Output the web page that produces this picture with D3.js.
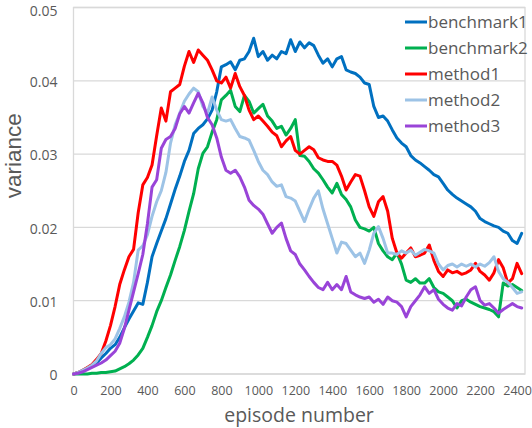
<!DOCTYPE html>
<html><head><meta charset="utf-8">
<script src="https://cdn.jsdelivr.net/npm/d3@7/dist/d3.min.js"></script>
<style>
html,body{margin:0;padding:0;background:#fff;}
svg{display:block;font-family:"Open Sans","Liberation Sans",sans-serif;}
</style></head>
<body><svg id="c" width="532" height="428"></svg>
<script>
const episodes = d3.range(0, 2426, 25);
const seriesNames = ["benchmark1","benchmark2","method1","method2","method3"];
const seriesColors = ["#0070C0","#00B050","#FF0000","#9DC3E6","#9944D8"];
const yTicks = [0,0.01,0.02,0.03,0.04,0.05];
const yTickLabels = ["0","0.01","0.02","0.03","0.04","0.05"];
const xTicks = d3.range(0, 2401, 200);

const benchmark1 = [0,0.0002,0.0005,0.0008,0.0012,0.0015,0.0022,0.0028,0.0035,0.0040,0.0050,0.0063,0.0075,0.0086,0.0097,0.0095,0.0125,0.0160,0.0178,0.0195,0.0212,0.0232,0.0252,0.0270,0.0290,0.0305,0.0328,0.0335,0.0340,0.0348,0.0360,0.0385,0.0419,0.0422,0.0426,0.0415,0.0428,0.0430,0.0440,0.0458,0.0433,0.0440,0.0428,0.0435,0.0430,0.0440,0.0437,0.0456,0.0440,0.0453,0.0445,0.0452,0.0448,0.0435,0.0424,0.0430,0.0419,0.0430,0.0433,0.0415,0.0412,0.0410,0.0405,0.0397,0.0395,0.0365,0.0350,0.0352,0.0345,0.0333,0.0322,0.0315,0.0310,0.0298,0.0292,0.0288,0.0283,0.0278,0.0272,0.0269,0.0260,0.0251,0.0245,0.0240,0.0236,0.0232,0.0228,0.0222,0.0212,0.0208,0.0205,0.0202,0.0200,0.0195,0.0192,0.0182,0.0178,0.0192];
const benchmark2 = [0,0,0,0,0.0001,0.0001,0.0002,0.0002,0.0003,0.0004,0.0007,0.0010,0.0014,0.0019,0.0026,0.0035,0.0050,0.0066,0.0085,0.0100,0.0118,0.0135,0.0155,0.0174,0.0196,0.0222,0.0246,0.0280,0.0301,0.0310,0.0330,0.0347,0.0374,0.0380,0.0387,0.0365,0.0358,0.0380,0.0372,0.0356,0.0362,0.0368,0.0352,0.0345,0.0335,0.0338,0.0326,0.0335,0.0347,0.0298,0.0297,0.0290,0.0280,0.0274,0.0265,0.0255,0.0247,0.0260,0.0245,0.0238,0.0228,0.0210,0.0200,0.0198,0.0195,0.0200,0.0178,0.0168,0.0160,0.0156,0.0165,0.0150,0.0128,0.0125,0.0130,0.0124,0.0124,0.0130,0.0118,0.0112,0.0110,0.0105,0.0100,0.0090,0.0100,0.0102,0.0098,0.0095,0.0092,0.0090,0.0088,0.0085,0.0078,0.0124,0.0120,0.0122,0.0118,0.0114];
const method1 = [0,0.0002,0.0005,0.0009,0.0013,0.0020,0.0028,0.0045,0.0066,0.0092,0.0122,0.0142,0.0160,0.0170,0.0220,0.0258,0.0268,0.0285,0.0325,0.0363,0.0345,0.0385,0.0390,0.0395,0.0420,0.0440,0.0425,0.0442,0.0435,0.0428,0.0415,0.0400,0.0397,0.0405,0.0390,0.0410,0.0392,0.0380,0.0360,0.0347,0.0352,0.0345,0.0338,0.0330,0.0325,0.0310,0.0318,0.0324,0.0305,0.0300,0.0305,0.0310,0.0306,0.0295,0.0292,0.0290,0.0290,0.0285,0.0270,0.0251,0.0262,0.0272,0.0270,0.0250,0.0228,0.0215,0.0235,0.0242,0.0222,0.0185,0.0165,0.0158,0.0165,0.0172,0.0160,0.0162,0.0165,0.0176,0.0155,0.0140,0.0133,0.0142,0.0138,0.0140,0.0136,0.0138,0.0142,0.0151,0.0140,0.0135,0.0128,0.0138,0.0156,0.0145,0.0124,0.0130,0.0151,0.0137];
const method2 = [0,0.0002,0.0005,0.0008,0.0012,0.0018,0.0028,0.0036,0.0040,0.0048,0.0062,0.0078,0.0098,0.0125,0.0169,0.0175,0.0190,0.0215,0.0235,0.0250,0.0275,0.0315,0.0340,0.0356,0.0372,0.0382,0.0390,0.0385,0.0365,0.0356,0.0378,0.0360,0.0347,0.0345,0.0347,0.0335,0.0324,0.0322,0.0319,0.0305,0.0290,0.0278,0.0272,0.0262,0.0256,0.0258,0.0242,0.0240,0.0236,0.0222,0.0208,0.0225,0.0240,0.0250,0.0225,0.0205,0.0185,0.0165,0.0180,0.0178,0.0169,0.0160,0.0165,0.0151,0.0169,0.0192,0.0201,0.0185,0.0165,0.0165,0.0163,0.0168,0.0165,0.0169,0.0162,0.0166,0.0170,0.0168,0.0165,0.0150,0.0142,0.0148,0.0150,0.0146,0.0150,0.0147,0.0150,0.0146,0.0150,0.0147,0.0152,0.0160,0.0140,0.0130,0.0125,0.0118,0.0110,0.0112];
const method3 = [0,0.0001,0.0003,0.0006,0.0009,0.0012,0.0015,0.0019,0.0025,0.0031,0.0042,0.0062,0.0087,0.0112,0.0137,0.0163,0.0205,0.0255,0.0265,0.0308,0.0320,0.0324,0.0335,0.0355,0.0365,0.0356,0.0370,0.0383,0.0370,0.0350,0.0340,0.0322,0.0296,0.0278,0.0274,0.0278,0.0269,0.0255,0.0237,0.0230,0.0225,0.0218,0.0205,0.0192,0.0200,0.0206,0.0185,0.0168,0.0163,0.0150,0.0142,0.0133,0.0125,0.0118,0.0115,0.0125,0.0115,0.0122,0.0115,0.0133,0.0112,0.0108,0.0105,0.0103,0.0105,0.0098,0.0102,0.0095,0.0105,0.0100,0.0098,0.0092,0.0078,0.0092,0.0100,0.0108,0.0119,0.0110,0.0115,0.0102,0.0095,0.0090,0.0087,0.0096,0.0093,0.0105,0.0115,0.0119,0.0100,0.0094,0.0096,0.0090,0.0083,0.0088,0.0092,0.0096,0.0092,0.0090];

const seriesValues = [benchmark1, benchmark2, method1, method2, method3];

const svg = d3.select("#c");
const L = 73.5, R = 525, T = 7.5, B = 374;
const x = d3.scaleLinear().domain([0, 2443]).range([L, R]);
const y = d3.scaleLinear().domain([0, 0.05]).range([B, T]);
const grid = "#d9d9d9", txt = "#595959";

// gridlines
svg.append("g").selectAll("line").data(yTicks).join("line")
  .attr("x1", L).attr("x2", R).attr("y1", d => y(d)).attr("y2", d => y(d))
  .attr("stroke", grid).attr("stroke-width", 1.3);
// plot border
svg.append("rect").attr("x", L).attr("y", T).attr("width", R - L).attr("height", B - T)
  .attr("fill", "none").attr("stroke", grid).attr("stroke-width", 1.3);

// y axis
const yAxis = d3.axisLeft(y).tickValues(yTicks).tickFormat((d, i) => yTickLabels[i]).tickSize(0).tickPadding(16);
const gy = svg.append("g").attr("transform", `translate(${L},0)`).call(yAxis);
gy.select(".domain").remove();
gy.selectAll("text").attr("fill", txt).attr("font-size", 14).style("font-family", "'Open Sans', sans-serif")
  .attr("dy", d => d === 0.05 ? "0.56em" : "0.4em");

// x axis
const xAxis = d3.axisBottom(x).tickValues(xTicks).tickFormat(d3.format("d")).tickSize(0).tickPadding(12);
const gx = svg.append("g").attr("transform", `translate(0,${B})`).call(xAxis);
gx.select(".domain").remove();
gx.selectAll("text").attr("fill", txt).attr("font-size", 12.5).style("font-family", "'Open Sans', sans-serif");

// axis titles
svg.append("text").attr("transform", `translate(21,${(T + B) / 2 - 35}) rotate(-90)`)
  .attr("text-anchor", "middle").attr("fill", txt).attr("font-size", 22.5)
  .style("font-family", "'Liberation Sans', Arial, sans-serif").text("variance");
svg.append("text").attr("x", 299).attr("y", 422).attr("text-anchor", "middle")
  .attr("fill", txt).attr("font-size", 19.5).text("episode number");

// lines
const line = d3.line().x((d, i) => x(episodes[i])).y(d => y(d));
svg.append("g").selectAll("path").data(seriesValues).join("path")
  .attr("d", d => line(d)).attr("fill", "none")
  .attr("stroke", (d, i) => seriesColors[i]).attr("stroke-width", 3)
  .attr("stroke-linejoin", "round").attr("stroke-linecap", "round");

// legend
const lg = svg.append("g").selectAll("g").data(seriesNames).join("g")
  .attr("transform", (d, i) => `translate(405,${22 + i * 26})`);
lg.append("rect").attr("x", 0).attr("y", -1.5).attr("width", 22).attr("height", 3).attr("fill", (d, i) => seriesColors[i]);
lg.append("text").attr("x", 23).attr("y", 0).attr("dy", "0.35em").attr("fill", txt)
  .attr("font-size", 17).text(d => d);
</script>
</body></html>
